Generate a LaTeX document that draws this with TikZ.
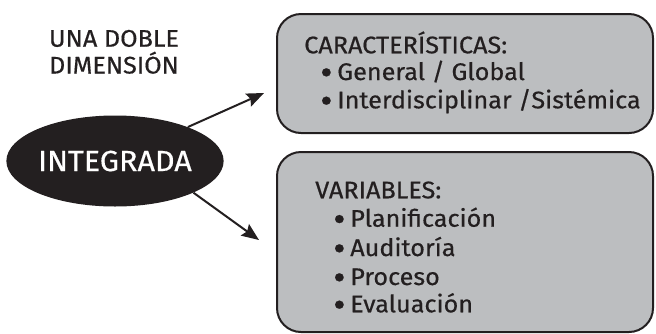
\documentclass[tikz,border=0pt]{standalone}
\usepackage{fontspec}
\setmainfont{Fira Sans}[FakeBold=0.5,FakeStretch=1.05]
\usetikzlibrary{arrows.meta,shapes.geometric}
\definecolor{inkgray}{RGB}{35,31,32}
\definecolor{boxgray}{RGB}{188,190,192}
\newcommand{\bul}{\makebox[12.75pt][l]{\smash{\raisebox{-3.5pt}{\scalebox{1.5}{•}}}}}

\begin{document}
\begin{tikzpicture}[x=0.75pt,y=0.75pt,yscale=-1,xscale=1,
  box/.style={draw=inkgray, fill=boxgray, line width=1.5pt, rounded corners=18pt, minimum width=282pt, anchor=north west, inner sep=0pt},
  arr/.style={draw=inkgray, line width=1.5pt, -{Stealth[length=13pt,width=10.5pt,inset=2pt]}},
  txt/.style={anchor=base west, inner sep=0pt, text=inkgray, text height=13pt, text depth=4pt, font=\fontsize{18}{20}\selectfont}]
\path[use as bounding box] (0,0) rectangle (656,333);

%Rounded boxes
\node[box, minimum height=89.25pt] (carac) at (276,13) {};
\node[box, minimum height=135pt] (vars) at (276,151) {};

%Ellipse
\node[ellipse, fill=inkgray, minimum width=160.5pt, minimum height=68.25pt, inner sep=0pt, text=white, font=\fontsize{21.8}{26}\selectfont] (integ) at (115,161) {INTEGRADA};

%Arrows
\coordinate (tipA) at (264,93);
\coordinate (tipB) at (259,240);
\draw[arr] (integ.25) -- (tipA);
\draw[arr] (integ.-22) -- (tipB);

% Text Node
\node[txt, anchor=base] (una) at (114,46.7) {UNA DOBLE};
% Text Node
\node[txt, anchor=base] (dimen) at (114,73.5) {DIMENSIÓN};

% Text Node
\node[txt] (caractitle) at (304,53.3) {CARACTERÍSTICAS:};
% Text Node
\node[txt] (general) at (320,80) {\bul General / Global};
% Text Node
\node[txt] (interd) at (320,108.3) {\bul Interdisciplinar /Sistémica};

% Text Node
\node[txt] (varstitle) at (315,198.3) {VARIABLES:};
% Text Node
\node[txt] (planif) at (333,226.7) {\bul Planificación};
% Text Node
\node[txt] (audit) at (333,256) {\bul Auditoría};
% Text Node
\node[txt] (proc) at (333,285) {\bul Proceso};
% Text Node
\node[txt] (evalu) at (333,312.3) {\bul Evaluación};

\end{tikzpicture}
\end{document}
